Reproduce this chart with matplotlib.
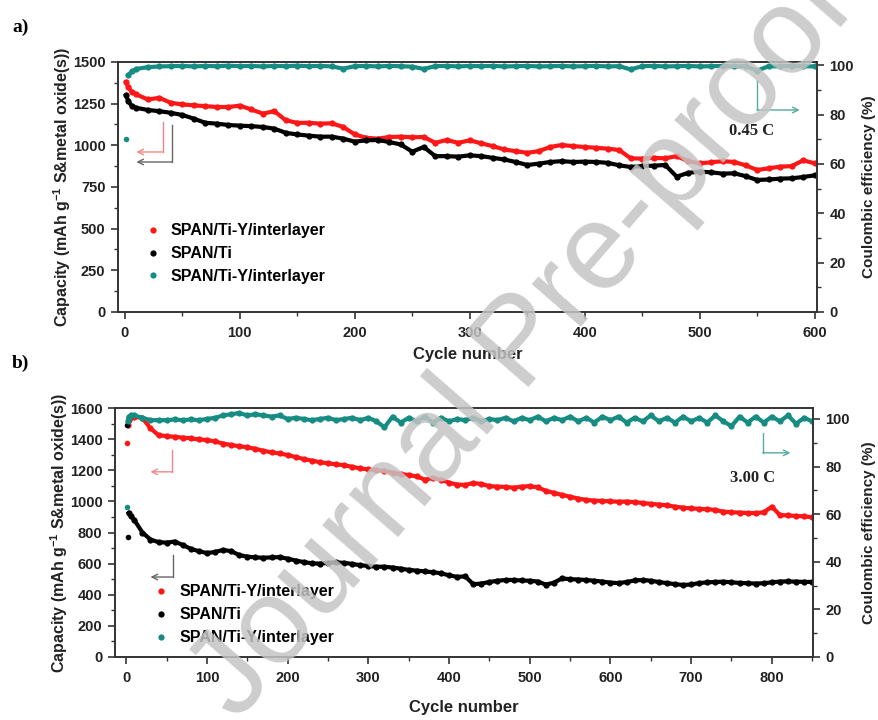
import matplotlib
matplotlib.use('Agg')
import matplotlib.pyplot as plt
from matplotlib.lines import Line2D
from matplotlib.ticker import MultipleLocator

plt.rcParams['font.family'] = ['Liberation Sans', 'DejaVu Sans']
plt.rcParams['mathtext.fontset'] = 'custom'
plt.rcParams['mathtext.rm'] = 'Liberation Sans'
plt.rcParams['mathtext.bf'] = 'Liberation Sans:bold'

# ---- a) 0.45 C, 600 cycles ----
cycles_a = [1, 3, 6] + list(range(10, 601, 10))
cap_a_interlayer = [1380, 1350, 1320,
                    1305, 1275, 1285, 1255, 1245, 1240, 1235, 1230, 1230, 1238,
                    1215, 1190, 1205, 1150, 1135, 1135, 1130, 1132, 1110, 1065,
                    1045, 1040, 1050, 1052, 1048, 1050, 1015, 1032, 1015, 1030,
                    1012, 995, 975, 965, 955, 965, 990, 1002, 995, 990,
                    985, 980, 972, 922, 920, 925, 922, 935, 905, 892,
                    898, 905, 900, 880, 852, 862, 872, 875, 910, 892]
cap_a_ti = [1300, 1265, 1235,
            1225, 1212, 1205, 1195, 1182, 1160, 1135, 1130, 1122, 1118,
            1115, 1110, 1100, 1075, 1065, 1058, 1052, 1052, 1040, 1022,
            1030, 1032, 1020, 1005, 962, 990, 935, 935, 932, 940,
            935, 925, 915, 900, 882, 890, 900, 905, 900, 902,
            900, 895, 880, 870, 875, 878, 882, 812, 835, 842,
            838, 830, 832, 815, 792, 795, 800, 802, 810, 820]
ce_a_interlayer = [70, 96, 97.5,
                   98.5, 99.2, 99.5, 99.6, 99.7, 99.5, 99.7, 99.6, 99.8, 99.6,
                   99.7, 99.5, 99.7, 99.6, 99.8, 99.6, 99.7, 99.5, 98.6, 99.6,
                   99.7, 99.5, 99.7, 99.6, 99.4, 98.5, 99.6, 99.7, 99.5, 99.7,
                   99.6, 99.7, 99.5, 99.6, 99.7, 99.5, 99.6, 99.7, 99.5, 99.6,
                   99.7, 99.5, 99.6, 98.3, 99.6, 99.7, 99.5, 99.6, 99.7, 99.5,
                   99.6, 99.7, 99.5, 99.6, 97.8, 99.6, 99.5, 99.7, 99.6, 99.5]

# ---- b) 3.00 C, 850 cycles ----
cycles_b = [1, 2, 3, 6] + list(range(10, 851, 10))
cap_b_interlayer = [1375, 1490, 1525, 1540,
                    1545, 1535, 1470, 1425, 1420, 1415, 1410, 1405, 1398, 1395,
                    1385, 1372, 1362, 1355, 1348, 1338, 1325, 1315, 1308, 1298,
                    1285, 1272, 1262, 1252, 1245, 1238, 1233, 1222, 1212, 1205,
                    1202, 1195, 1185, 1175, 1170, 1160, 1140, 1150, 1140, 1120,
                    1108, 1106, 1118, 1112, 1098, 1095, 1093, 1088, 1095, 1098,
                    1090, 1068, 1055, 1042, 1030, 1018, 1010, 1005, 1003, 1000,
                    998, 999, 995, 990, 984, 980, 975, 966, 960, 955,
                    952, 950, 945, 934, 930, 928, 925, 925, 930, 966,
                    912, 910, 906, 904, 898]
cap_b_ti = [1490, 772, 925, 905,
            880, 800, 755, 738, 735, 742, 720, 695, 680, 668,
            675, 688, 680, 655, 645, 640, 638, 640, 642, 632,
            620, 610, 602, 600, 605, 608, 605, 598, 590, 585,
            580, 580, 575, 568, 560, 555, 550, 545, 538, 525,
            515, 518, 468, 472, 482, 490, 495, 495, 492, 490,
            485, 465, 478, 505, 500, 498, 495, 490, 485, 478,
            475, 482, 492, 495, 490, 482, 475, 468, 463, 466,
            475, 480, 482, 484, 480, 476, 474, 472, 474, 480,
            485, 486, 484, 483, 482]
ce_b_interlayer = [63, 99, 101, 101.5,
                   101.5, 100.5, 99.5, 99.5, 99.5, 99.8, 99.5, 99.8, 99.5, 100,
                   100.5, 101.5, 102, 102.5, 101.5, 102, 101.5, 101, 101.5, 100,
                   100.5, 100, 99.5, 100, 100.5, 99.5, 100, 100.5, 99.5, 100.5,
                   99, 96.5, 101, 98.5, 100.5, 99, 101, 98.5, 100.5, 99,
                   100, 99.5, 100.5, 99, 100, 99.5, 100.5, 99, 100.5, 99.5,
                   101, 99, 100.5, 99.5, 101, 99, 100.5, 98.5, 101, 99.5,
                   101, 98.5, 100.5, 99, 101.5, 99, 100.5, 98.5, 101, 99,
                   100.5, 98.5, 101.5, 99, 97, 101, 98.5, 101, 98.5, 101,
                   99, 101.5, 98, 100.5, 99]

labels = ['SPAN/Ti-Y/interlayer', 'SPAN/Ti', 'SPAN/Ti-Y/interlayer']
RED = '#ff1616'
BLACK = '#000000'
TEAL = '#178c82'
AXC = '#333333'


def draw_series(ax, x, y, n_iso, color):
    # isolated first-cycle points, then the cycling trace
    if n_iso:
        ax.plot(x[:n_iso], y[:n_iso], 'o', color=color, ms=4, mec='none')
    ax.plot(x[n_iso:], y[n_iso:], '-o', color=color, lw=3, ms=4.5, mec='none')


def bent_arrow(ax, x0, y_top, y_bot, x_head, color):
    ax.plot([x0, x0], [y_top, y_bot], color=color, lw=1)
    ax.annotate('', xy=(x_head, y_bot), xytext=(x0, y_bot),
                arrowprops=dict(arrowstyle='->', color=color, lw=1,
                                shrinkA=0, shrinkB=0))


def style_axes(ax, ax2, xmaj, ymaj, ymin):
    for a in (ax, ax2):
        for s in a.spines.values():
            s.set_color(AXC)
            s.set_linewidth(1.2)
    ax.xaxis.set_major_locator(MultipleLocator(xmaj))
    ax.xaxis.set_minor_locator(MultipleLocator(xmaj / 2))
    ax.yaxis.set_major_locator(MultipleLocator(ymaj))
    ax.yaxis.set_minor_locator(MultipleLocator(ymin))
    ax2.yaxis.set_major_locator(MultipleLocator(20))
    ax2.yaxis.set_minor_locator(MultipleLocator(10))
    ax.tick_params(axis='both', which='major', direction='out', length=5,
                   width=1.2, color=AXC, labelsize=10.5, pad=4)
    ax.tick_params(axis='x', which='major', pad=5)
    ax.tick_params(axis='both', which='minor', direction='out', length=3,
                   width=1, color=AXC)
    ax.tick_params(axis='x', which='both', top=False)
    ax2.tick_params(axis='y', which='major', direction='out', length=5,
                    width=1.2, color=AXC, labelsize=10.5, pad=4)
    ax2.tick_params(axis='y', which='minor', direction='out', length=3,
                    width=1, color=AXC)
    for lab in ax.get_xticklabels() + ax.get_yticklabels() + ax2.get_yticklabels():
        lab.set_fontweight('bold')
        lab.set_color('#222222')


def add_legend(ax, anchor):
    handles = [Line2D([], [], ls='none', marker='o', ms=4.5, mec='none', color=c)
               for c in (RED, BLACK, TEAL)]
    ax.legend(handles, labels, loc='lower left', bbox_to_anchor=anchor,
              frameon=False, handlelength=1.0, handletextpad=0.6,
              labelspacing=0.5, borderaxespad=0,
              prop=dict(weight='bold', size=11.5))


fig = plt.figure(figsize=(8.79, 7.2), dpi=100)

# panel a
ax_a = fig.add_axes([0.1342, 0.5667, 0.7952, 0.3472])
ax_a2 = ax_a.twinx()
draw_series(ax_a, cycles_a, cap_a_interlayer, 0, RED)
draw_series(ax_a, cycles_a, cap_a_ti, 0, BLACK)
draw_series(ax_a2, cycles_a, ce_a_interlayer, 1, TEAL)
ax_a.set_xlim(-6, 602)
ax_a.set_ylim(0, 1500)
ax_a2.set_ylim(0, 101.3)
style_axes(ax_a, ax_a2, 100, 250, 125)
bent_arrow(ax_a, 33, 1140, 960, 10, '#ee8888')
bent_arrow(ax_a, 41, 1122, 900, 10, '#666666')
bent_arrow(ax_a, 550, 1392, 1212, 587, '#55aaa2')
ax_a.text(545, 1086, '0.45 C', family='Liberation Serif', weight='bold',
          fontsize=12, ha='center', va='center', color='#222222')
add_legend(ax_a2, (0.029, 0.086))

# panel b
ax_b = fig.add_axes([0.1308, 0.0875, 0.7941, 0.3458])
ax_b2 = ax_b.twinx()
draw_series(ax_b, cycles_b, cap_b_interlayer, 1, RED)
draw_series(ax_b, cycles_b, cap_b_ti, 2, BLACK)
draw_series(ax_b2, cycles_b, ce_b_interlayer, 1, TEAL)
ax_b.set_xlim(-14, 851)
ax_b.set_ylim(0, 1600)
ax_b2.set_ylim(0, 104.6)
style_axes(ax_b, ax_b2, 100, 200, 100)
bent_arrow(ax_b, 57, 1331, 1190, 30, '#ee8888')
bent_arrow(ax_b, 58, 656, 514, 30, '#666666')
bent_arrow(ax_b, 789, 1440, 1312, 823, '#55aaa2')
ax_b.text(776, 1151, '3.00 C', family='Liberation Serif', weight='bold',
          fontsize=12, ha='center', va='center', color='#222222')
add_legend(ax_b2, (0.046, 0.021))

ylab = r'Capacity (mAh g$^{\mathbf{-1}}$ S&metal oxide(s))'
for ax, ax2, lx, rx, xy in ((ax_a, ax_a2, -0.064, 1.064, -0.14),
                            (ax_b, ax_b2, -0.064, 1.070, -0.173)):
    ax.set_ylabel(ylab, fontsize=11.5, fontweight='bold', color='#222222')
    ax2.set_ylabel('Coulombic efficiency (%)', fontsize=11,
                   fontweight='bold', color='#222222')
    ax.set_xlabel('Cycle number', fontsize=12, fontweight='bold', color='#222222')
    ax.yaxis.set_label_coords(lx, 0.5)
    ax2.yaxis.set_label_coords(rx, 0.5)
    ax.xaxis.set_label_coords(0.5, xy)

fig.text(0.023, 0.962, 'a)', family='Liberation Serif', weight='bold',
         fontsize=14, ha='center', va='center')
fig.text(0.023, 0.495, 'b)', family='Liberation Serif', weight='bold',
         fontsize=14, ha='center', va='center')

# watermark
fig.text(0.595, 0.52, 'Journal Pre-proof', rotation=49, ha='center',
         va='center', fontsize=88, color='#c4c4c4', alpha=0.85, zorder=10)

fig.savefig('out.png', dpi=100)
